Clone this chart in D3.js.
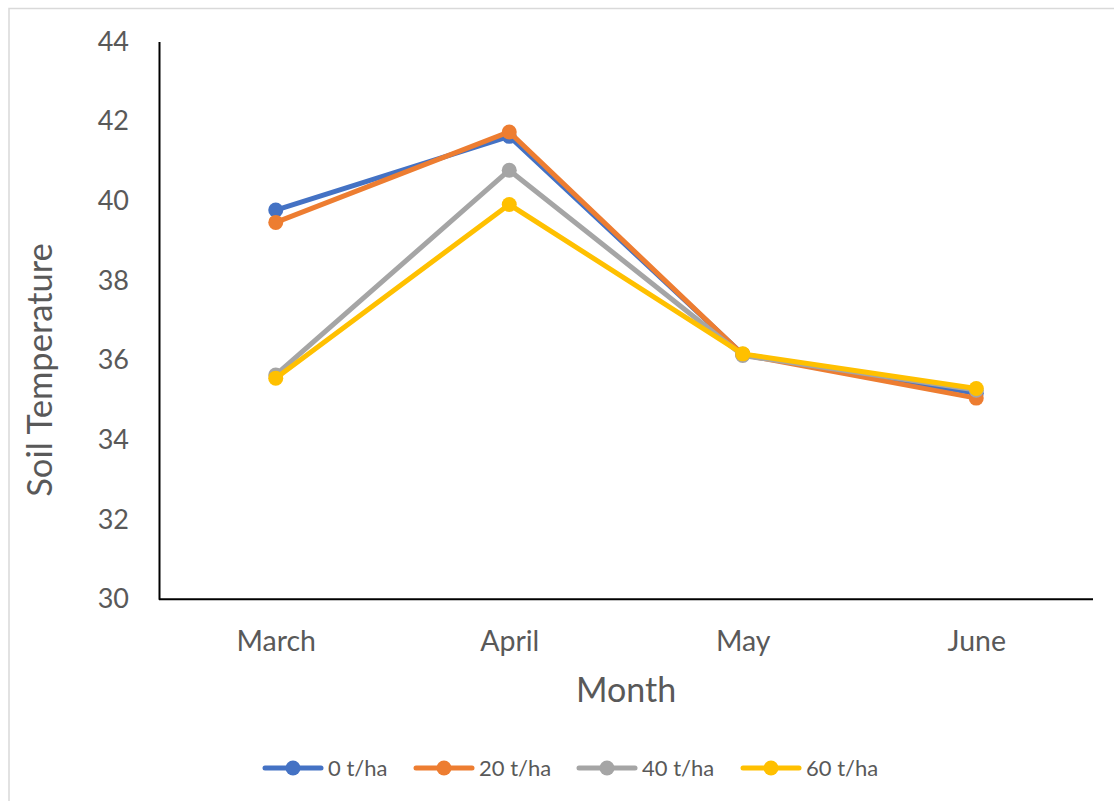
<!DOCTYPE html>
<html>
<head>
<meta charset="utf-8">
<script src="https://cdn.jsdelivr.net/npm/d3@7"></script>
<style>
  html, body { margin: 0; padding: 0; background: #fff; }
  svg { display: block; }
  text { font-family: Lato, "Open Sans", sans-serif; fill: #595959; }
</style>
</head>
<body>
<svg id="chart" width="1114" height="801"></svg>
<script>
// Monthly soil temperature under four application rates
const months = ["March", "April", "May", "June"];
const seriesNames = ["0 t/ha", "20 t/ha", "40 t/ha", "60 t/ha"];
const seriesColors = ["#4472C4", "#ED7D31", "#A5A5A5", "#FFC000"];
const rate0 = [39.77, 41.62, 36.15, 35.17];
const rate20 = [39.46, 41.73, 36.14, 35.05];
const rate40 = [35.63, 40.77, 36.12, 35.25];
const rate60 = [35.55, 39.91, 36.16, 35.29];
const yTicks = [30, 32, 34, 36, 38, 40, 42, 44];

const seriesValues = [rate0, rate20, rate40, rate60];

const svg = d3.select("#chart");

// outer chart frame
svg.append("rect")
  .attr("x", 9).attr("y", 8.5)
  .attr("width", 1120).attr("height", 820)
  .attr("fill", "none").attr("stroke", "#D9D9D9").attr("stroke-width", 1.5);

const plot = { left: 159, right: 1093, top: 41.5, bottom: 599.3 };

const x = d3.scalePoint().domain(months).range([plot.left, plot.right]).padding(0.5);
const y = d3.scaleLinear().domain([30, 44]).range([plot.bottom, plot.top]);

// y axis
const yAxis = svg.append("g")
  .attr("transform", `translate(${plot.left},0)`)
  .call(d3.axisLeft(y).tickValues(yTicks).tickSize(0).tickPadding(30).tickFormat(d3.format("d")));
yAxis.select(".domain").attr("stroke", "#000").attr("stroke-width", 2);
yAxis.selectAll("text").attr("font-size", 27).style("font-family", "Lato, sans-serif").attr("fill", "#595959");

// x axis
const xAxis = svg.append("g")
  .attr("transform", `translate(0,${plot.bottom})`)
  .call(d3.axisBottom(x).tickSize(0).tickPadding(31));
xAxis.select(".domain").attr("stroke", "#000").attr("stroke-width", 2)
  .attr("d", `M${plot.left},0H${plot.right}`);
xAxis.selectAll("text").attr("font-size", 28.5).style("font-family", "Lato, sans-serif").attr("fill", "#595959");

// axis titles
svg.append("text")
  .attr("x", 626).attr("y", 702)
  .attr("text-anchor", "middle")
  .attr("font-size", 34)
  .text("Month");

svg.append("text")
  .attr("transform", `translate(52,370) rotate(-90)`)
  .attr("text-anchor", "middle")
  .attr("font-size", 34.5)
  .text("Soil Temperature");

// series lines and markers
const line = d3.line().x((d, i) => x(months[i])).y(d => y(d));

seriesValues.forEach((vals, s) => {
  const g = svg.append("g");
  g.append("path")
    .datum(vals)
    .attr("d", line)
    .attr("fill", "none")
    .attr("stroke", seriesColors[s])
    .attr("stroke-width", 5)
    .attr("stroke-linejoin", "round")
    .attr("stroke-linecap", "round");
  g.selectAll("circle")
    .data(vals)
    .join("circle")
    .attr("cx", (d, i) => x(months[i]))
    .attr("cy", d => y(d))
    .attr("r", 7.5)
    .attr("fill", seriesColors[s]);
});

// legend
const legendX = [265, 416, 579, 743];
const legendY = 768;
seriesNames.forEach((name, s) => {
  const g = svg.append("g").attr("transform", `translate(${legendX[s]},${legendY})`);
  g.append("line")
    .attr("x1", 0).attr("x2", 56)
    .attr("stroke", seriesColors[s]).attr("stroke-width", 5)
    .attr("stroke-linecap", "round");
  g.append("circle").attr("cx", 28).attr("r", 7.5).attr("fill", seriesColors[s]);
  g.append("text")
    .attr("x", 63).attr("y", 0).attr("dy", "0.35em")
    .attr("font-size", 22)
    .text(name);
});
</script>
</body>
</html>
